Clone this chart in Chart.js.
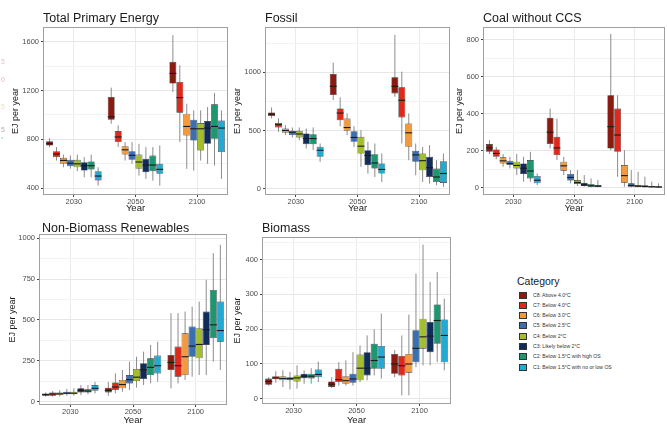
<!DOCTYPE html>
<html>
<head>
<meta charset="utf-8">
<script src="https://cdn.jsdelivr.net/npm/chart.js@4.4.1/dist/chart.umd.min.js"></script>
<style>
  body { margin: 0; background: #fff; }
  #page { position: relative; width: 667px; height: 426px; overflow: hidden; font-family: "Liberation Sans", Arial, sans-serif; }
  canvas { position: absolute; }
  .legend-title { position: absolute; left: 517px; top: 275px; font-size: 10.5px; color: #1a1a1a; }
  .key { position: absolute; left: 519px; width: 8px; height: 7px; box-sizing: border-box; border: 0.6px solid #333; }
  .key-label { position: absolute; left: 533px; font-size: 5.1px; color: #333; white-space: nowrap; }
  .frag { position: absolute; left: 1px; font-size: 7px; opacity: 0.45; }
</style>
</head>
<body>
<div id="page">
  <canvas id="tpe" width="232" height="214" style="left:0;top:0"></canvas>
  <canvas id="fossil" width="222" height="214" style="left:232px;top:0"></canvas>
  <canvas id="coal" width="213" height="214" style="left:454px;top:0"></canvas>
  <canvas id="nonbio" width="232" height="212" style="left:0;top:214px"></canvas>
  <canvas id="bio" width="228" height="212" style="left:232px;top:214px"></canvas>
  <div id="legend"></div>
</div>
<script>
// years on the x axis, categories = series
const years = ['2030', '2050', '2100'];
const categories = [
  'C8: Above 4.0°C', 'C7: Below 4.0°C', 'C6: Below 3.0°C', 'C5: Below 2.5°C',
  'C4: Below 2°C', 'C3: Likely below 2°C', 'C2: Below 1.5°C with high OS', 'C1: Below 1.5°C with no or low OS'
];
const catColors = ['#8b1a10', '#e1291b', '#f29a3d', '#3a6fb0', '#a2be2a', '#0f2d5a', '#1e9670', '#23aad2'];

// each row = one category (C8..C1), values for 2030, 2050, 2100
// Total Primary Energy
const tpeLo  = [[735,928,1188],[627,737,778],[572,627,559],[560,600,545],[540,504,627],[490,477,600],[490,463,586],[422,422,477]];
const tpeQ1  = [[750,961,1257],[655,778,1019],[600,676,832],[580,633,791],[572,559,709],[545,531,764],[553,540,805],[463,518,696]];
const tpeMed = [[765,985,1340],[680,820,1142],[628,715,906],[605,670,887],[600,615,887],[585,590,893],[585,590,906],[500,555,893]];
const tpeQ3  = [[785,1147,1435],[704,868,1270],[649,745,1010],[633,704,961],[633,676,934],[613,641,950],[620,668,1087],[540,600,955]];
const tpeHi  = [[810,1224,1653],[737,915,1407],[676,778,1092],[668,778,1038],[676,764,1038],[655,737,1065],[676,737,1180],[572,750,1038]];

// Fossil
const fosLo  = [[604,762,790],[489,537,388],[460,460,244],[440,359,115],[417,187,57],[345,129,43],[330,100,29],[230,57,14]];
const fosQ1  = [[624,805,819],[526,589,612],[480,497,359],[460,402,230],[440,302,158],[382,201,100],[382,172,57],[273,129,49]];
const fosMed = [[640,880,880],[550,650,760],[500,525,480],[485,440,290],[470,365,240],[430,285,180],[430,220,100],[330,165,130]];
const fosQ3  = [[655,986,957],[566,690,871],[517,604,560],[497,494,325],[497,445,302],[474,330,273],[468,296,172],[359,216,236]];
const fosHi  = [[698,1083,1322],[604,785,1006],[546,647,647],[526,537,388],[526,503,359],[517,402,374],[526,388,244],[388,302,302]];

// Coal without CCS
const coalLo  = [[182,212,203],[153,149,59],[113,68,5],[104,23,2],[68,9,2],[32,5,1],[32,2,1],[14,2,0]];
const coalQ1  = [[194,236,212],[167,176,194],[131,92,27],[122,38,5],[104,20,4],[74,9,2],[50,5,2],[23,4,1]];
const coalMed = [[215,300,330],[185,215,285],[145,118,65],[130,55,12],[120,28,8],[105,15,6],[90,10,4],[40,8,3]];
const coalQ3  = [[236,379,500],[207,275,428],[164,140,122],[146,74,23],[140,41,14],[131,27,13],[149,20,9],[63,14,7]];
const coalHi  = [[257,428,832],[221,374,500],[182,167,203],[167,95,95],[182,95,86],[167,68,59],[194,50,32],[77,41,23]];

// Non-Biomass Renewables
const nbrLo  = [[31,37,82],[31,51,112],[31,61,133],[37,71,153],[37,86,163],[41,102,163],[45,112,245],[51,122,194]];
const nbrQ1  = [[37,57,194],[37,71,153],[41,82,163],[45,112,275],[45,126,265],[57,139,347],[57,163,388],[67,173,367]];
const nbrMed = [[43,70,240],[47,90,220],[48,105,275],[52,135,340],[52,150,350],[68,195,440],[65,210,470],[82,220,435]];
const nbrQ3  = [[51,86,286],[57,118,337],[57,133,418],[61,163,459],[61,200,449],[82,235,551],[78,265,683],[102,282,612]];
const nbrHi  = [[57,122,541],[65,173,541],[71,194,551],[78,245,581],[82,275,612],[102,306,745],[102,347,908],[122,367,959]];

// Biomass
const bioLo  = [[38,31,62],[46,38,10],[34,38,10],[27,38,91],[29,48,96],[43,53,96],[43,67,105],[48,58,82]];
const bioQ1  = [[40,34,72],[56,48,67],[53,43,75],[53,46,105],[50,53,144],[59,67,134],[58,86,158],[62,86,105]];
const bioMed = [[50,42,100],[60,55,95],[58,52,100],[58,57,145],[60,88,178],[65,88,180],[65,110,225],[70,120,182]];
const bioQ3  = [[58,50,129],[65,86,123],[65,65,129],[62,72,197],[67,127,230],[72,134,221],[72,158,271],[84,152,228]];
const bioHi  = [[62,62,140],[79,105,182],[82,110,242],[77,134,360],[96,153,443],[82,182,336],[88,199,364],[107,245,288]];

// y tick labels for each panel
const tpeTicks = [400, 800, 1200, 1600];
const fosTicks = [0, 500, 1000];
const coalTicks = [0, 200, 400, 600, 800];
const nbrTicks = [0, 250, 500, 750, 1000];
const bioTicks = [0, 100, 200, 300, 400];

const FONT = '"Liberation Sans", Arial, sans-serif';

// whiskers behind the boxes, medians + panel frame + title on top
const boxPlugin = {
  id: 'boxWhisker',
  beforeDatasetsDraw(chart) {
    const { ctx, chartArea: a, scales: { y } } = chart;
    ctx.save();
    ctx.beginPath();
    ctx.rect(a.left, a.top, a.right - a.left, a.bottom - a.top);
    ctx.clip();
    ctx.strokeStyle = '#6e6e6e';
    ctx.lineWidth = 0.8;
    chart.data.datasets.forEach((ds, i) => {
      chart.getDatasetMeta(i).data.forEach((bar, j) => {
        ctx.beginPath();
        ctx.moveTo(bar.x, y.getPixelForValue(ds.lo[j]));
        ctx.lineTo(bar.x, y.getPixelForValue(ds.hi[j]));
        ctx.stroke();
      });
    });
    ctx.restore();
  },
  afterDatasetsDraw(chart) {
    const { ctx, chartArea: a, scales: { y } } = chart;
    ctx.save();
    ctx.strokeStyle = '#1a1a1a';
    ctx.lineWidth = 1.1;
    chart.data.datasets.forEach((ds, i) => {
      chart.getDatasetMeta(i).data.forEach((bar, j) => {
        const py = y.getPixelForValue(ds.med[j]);
        ctx.beginPath();
        ctx.moveTo(bar.x - bar.width / 2, py);
        ctx.lineTo(bar.x + bar.width / 2, py);
        ctx.stroke();
      });
    });
    ctx.strokeStyle = '#a0a0a0';
    ctx.lineWidth = 1;
    ctx.strokeRect(Math.round(a.left) + 0.5, Math.round(a.top) + 0.5, Math.round(a.right - a.left) - 1, Math.round(a.bottom - a.top) - 1);
    const t = chart.options.plugins.boxWhisker;
    ctx.fillStyle = '#1a1a1a';
    ctx.font = '12.5px ' + FONT;
    ctx.textBaseline = 'alphabetic';
    ctx.fillText(t.title, a.left + t.titleDx, t.titleY);
    ctx.restore();
  }
};

function makePanel(id, cfg) {
  const majors = cfg.ticks;
  const step = majors[1] - majors[0];
  const allTicks = [];
  majors.forEach(v => { allTicks.push(v - step / 2, v); });
  allTicks.push(majors[majors.length - 1] + step / 2);
  const isMajor = v => majors.includes(v);

  return new Chart(document.getElementById(id), {
    type: 'bar',
    data: {
      labels: years,
      datasets: categories.map((c, i) => ({
        label: c,
        data: years.map((yr, j) => [cfg.q1[i][j], cfg.q3[i][j]]),
        lo: cfg.lo[i], med: cfg.med[i], hi: cfg.hi[i],
        backgroundColor: catColors[i],
        borderColor: '#2a2a2a',
        borderWidth: 0.6,
        borderSkipped: false,
        categoryPercentage: 0.9,
        barPercentage: 1
      }))
    },
    options: {
      responsive: false,
      animation: false,
      layout: { padding: { top: cfg.top, right: cfg.right, left: 0, bottom: 0 } },
      plugins: {
        legend: { display: false },
        tooltip: { enabled: false },
        boxWhisker: { title: cfg.title, titleY: cfg.titleY, titleDx: cfg.titleDx || 0 }
      },
      scales: {
        x: {
          grid: { offset: false, color: '#ebebeb', tickColor: '#444', tickLength: 2 },
          border: { display: false },
          ticks: { color: '#4d4d4d', font: { family: FONT, size: 7.5 }, padding: 0, maxRotation: 0 },
          title: { display: true, text: 'Year', color: '#1a1a1a', font: { family: FONT, size: 9.5 }, padding: 0 },
          afterFit: s => { s.height = cfg.xH; }
        },
        y: {
          min: cfg.min,
          max: cfg.max,
          afterBuildTicks: s => { s.ticks = allTicks.filter(v => v >= cfg.min && v <= cfg.max).map(v => ({ value: v })); },
          grid: {
            color: c => (c.tick && isMajor(c.tick.value)) ? '#e6e6e6' : '#f3f3f3',
            tickColor: c => (c.tick && isMajor(c.tick.value)) ? '#444' : 'rgba(0,0,0,0)',
            tickLength: 2
          },
          border: { display: false },
          ticks: {
            color: '#4d4d4d', font: { family: FONT, size: 7.5 }, padding: 2,
            callback: v => isMajor(v) ? String(v) : ''
          },
          title: { display: true, text: 'EJ per year', color: '#1a1a1a', font: { family: FONT, size: 9 }, padding: { top: cfg.yTitlePad, bottom: 0 } },
          afterFit: s => { s.width = cfg.yW; }
        }
      }
    },
    plugins: [boxPlugin]
  });
}

makePanel('tpe', { title: 'Total Primary Energy', lo: tpeLo, q1: tpeQ1, med: tpeMed, q3: tpeQ3, hi: tpeHi,
  ticks: tpeTicks, min: 345, max: 1720, top: 27, right: 4, yW: 43, xH: 19, titleY: 22, yTitlePad: 10 });
makePanel('fossil', { title: 'Fossil', lo: fosLo, q1: fosQ1, med: fosMed, q3: fosQ3, hi: fosHi,
  ticks: fosTicks, min: -55, max: 1390, top: 27, right: 4, yW: 33, xH: 19, titleY: 22, yTitlePad: 0.5 });
makePanel('coal', { title: 'Coal without CCS', lo: coalLo, q1: coalQ1, med: coalMed, q3: coalQ3, hi: coalHi,
  ticks: coalTicks, min: -40, max: 870, top: 27, right: 2, yW: 29, xH: 19, titleY: 22, yTitlePad: 0.5 });
makePanel('nonbio', { title: 'Non-Biomass Renewables', lo: nbrLo, q1: nbrQ1, med: nbrMed, q3: nbrQ3, hi: nbrHi,
  ticks: nbrTicks, min: -20, max: 1025, top: 20, right: 5, yW: 39, xH: 21, titleY: 17.5, titleDx: 3, yTitlePad: 7.5 });
makePanel('bio', { title: 'Biomass', lo: bioLo, q1: bioQ1, med: bioMed, q3: bioQ3, hi: bioHi,
  ticks: bioTicks, min: -15, max: 465, top: 23, right: 9, yW: 30, xH: 22, titleY: 18, yTitlePad: 0 });

// legend
const legend = document.getElementById('legend');
let html = '<div class="legend-title">Category</div>';
categories.forEach((c, i) => {
  const cy = 295 + i * 10.3;
  html += `<div class="key" style="top:${cy - 3.5}px;background:${catColors[i]}"></div>`;
  html += `<div class="key-label" style="top:${cy - 3.5}px">${c}</div>`;
});
// faint fragments at the left edge of the source image
const frags = [[58, '5', '#d06a6a'], [76, '0', '#d94a3a'], [103, '5', '#d9b060'], [126, '5', '#334466'], [134, '•', '#50b8d0']];
frags.forEach(([t, s, col]) => { html += `<div class="frag" style="top:${t}px;color:${col}">${s}</div>`; });
legend.innerHTML = html;
</script>
</body>
</html>
